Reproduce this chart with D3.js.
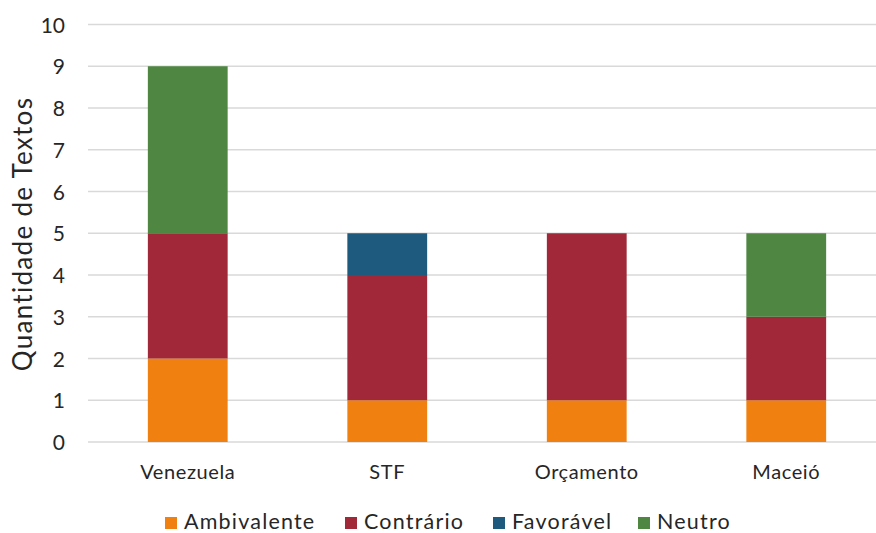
<!DOCTYPE html>
<html><head><meta charset="utf-8">
<script src="https://cdn.jsdelivr.net/npm/d3@7"></script>
<style>body{margin:0;background:#fff;}svg{display:block;font-family:Lato,"Open Sans",sans-serif;}</style>
</head><body><svg id="c" width="876" height="533"></svg>
<script>
const categories = ["Venezuela","STF","Orçamento","Maceió"];
const seriesNames = ["Ambivalente","Contrário","Favorável","Neutro"];
const ambivalente = [2,1,1,1];
const contrario = [3,3,4,2];
const favoravel = [0,1,0,0];
const neutro = [4,0,0,2];
const yTicks = [0,1,2,3,4,5,6,7,8,9,10];
const colors = ["#f08010","#a02838","#1e5a7e","#4e8642"];

const svg = d3.select("#c");
const x = d3.scaleBand().domain(categories).range([88,886]).paddingInner(0.6).paddingOuter(0.3);
const y = d3.scaleLinear().domain([0,10]).range([442,24.5]);

const rows = categories.map((c,i)=>({cat:c,Ambivalente:ambivalente[i],"Contrário":contrario[i],"Favorável":favoravel[i],Neutro:neutro[i]}));
const stack = d3.stack().keys(seriesNames)(rows);

svg.append("g").selectAll("line").data(yTicks).join("line")
  .attr("x1",88).attr("x2",876).attr("y1",d=>y(d)).attr("y2",d=>y(d))
  .attr("stroke","#d9d9d9").attr("stroke-width",1.3);

const yAxis = svg.append("g").attr("transform","translate(88,0)")
  .call(d3.axisLeft(y).tickValues(yTicks).tickSize(0).tickPadding(23));
yAxis.select(".domain").remove();
yAxis.selectAll("text").attr("font-size",21).attr("fill","#262626").attr("font-family","Lato, sans-serif").attr("dy","0.36em");

svg.append("g").selectAll("g").data(stack).join("g").attr("fill",(d,i)=>colors[i])
  .selectAll("rect").data(d=>d).join("rect")
  .attr("x",d=>x(d.data.cat)).attr("width",x.bandwidth())
  .attr("y",d=>y(d[1])).attr("height",d=>y(d[0])-y(d[1]));

const xAxis = svg.append("g").attr("transform","translate(0,442)")
  .call(d3.axisBottom(x).tickSize(0).tickPadding(23));
xAxis.select(".domain").remove();
xAxis.selectAll("text").attr("font-size",20).attr("fill","#262626").attr("font-family","Lato, sans-serif").attr("letter-spacing",0.6);

svg.append("text").attr("transform","translate(32,234) rotate(-90)")
  .attr("text-anchor","middle").attr("font-size",26).attr("fill","#262626").attr("letter-spacing",1.3)
  .text("Quantidade de Textos");

const legendX = [165,345,493,638];
const lg = svg.append("g").selectAll("g").data(seriesNames).join("g")
  .attr("transform",(d,i)=>`translate(${legendX[i]},523)`);
lg.append("rect").attr("x",0).attr("y",-6).attr("width",12).attr("height",12).attr("fill",(d,i)=>colors[i]);
lg.append("text").attr("x",19).attr("y",6).attr("font-size",21.5).attr("fill","#262626").attr("letter-spacing",1.2).text(d=>d);
</script></body></html>
